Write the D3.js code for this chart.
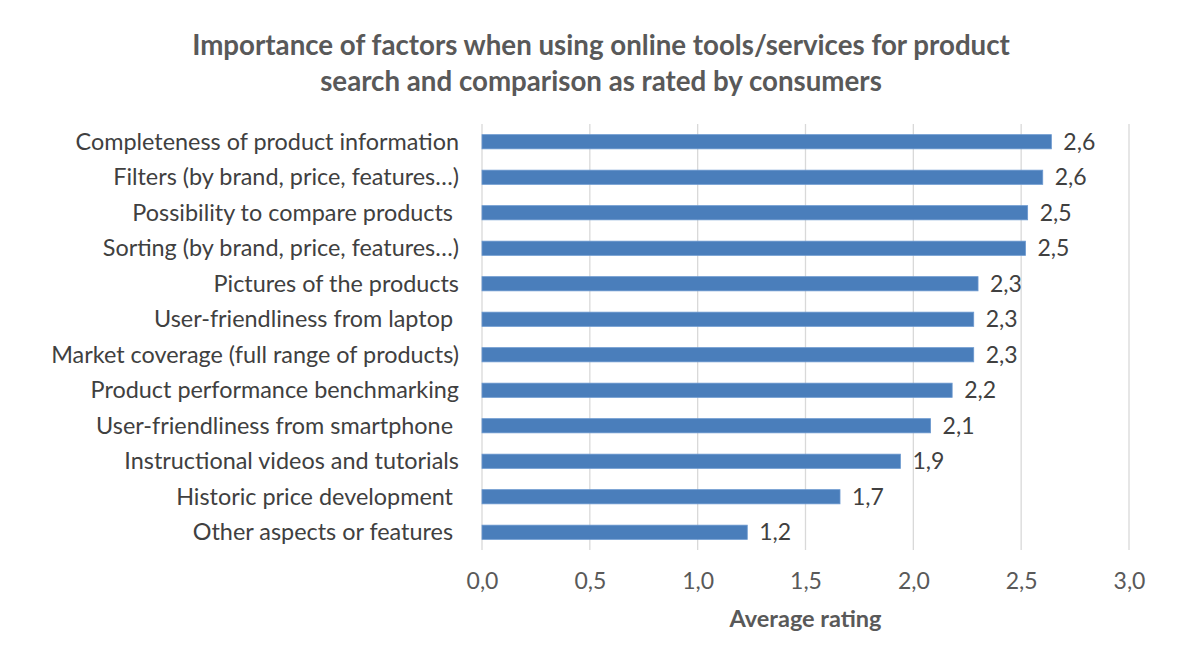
<!DOCTYPE html>
<html>
<head>
<meta charset="utf-8">
<script src="https://cdn.jsdelivr.net/npm/d3@7"></script>
<style>
  body{margin:0;background:#fff;}
  text{font-family:Lato,"Open Sans",sans-serif;}
</style>
</head>
<body>
<svg id="chart" width="1200" height="664"></svg>
<script>
// data
var categories = [
  "Completeness of product information",
  "Filters (by brand, price, features\u2026)",
  "Possibility to compare products ",
  "Sorting (by brand, price, features\u2026)",
  "Pictures of the products",
  "User-friendliness from laptop ",
  "Market coverage (full range of products)",
  "Product performance benchmarking",
  "User-friendliness from smartphone ",
  "Instructional videos and tutorials",
  "Historic price development ",
  "Other aspects or features "
];
var ratings = [2.64, 2.60, 2.53, 2.52, 2.30, 2.28, 2.28, 2.18, 2.08, 1.94, 1.66, 1.23];
var xTicks = [0, 0.5, 1, 1.5, 2, 2.5, 3];
var titleLines = [
  "Importance of factors when using online tools/services for product",
  "search and comparison as rated by consumers"
];

var svg = d3.select("#chart");
var fmt = function(d){ return d3.format(".1f")(d).replace(".", ","); };

var x = d3.scaleLinear().domain([0, 3]).range([482, 1129]);
var y = d3.scaleBand().domain(categories).range([124, 550]).paddingInner(0.6).paddingOuter(0.3);

// title
svg.append("g").selectAll("text")
  .data(titleLines)
  .enter().append("text")
    .attr("x", 601)
    .attr("y", function(d, i){ return 55 + i*36; })
    .attr("text-anchor", "middle")
    .attr("font-size", 27.7)
    .attr("font-weight", "bold")
    .attr("fill", "#595959")
    .text(function(d){ return d; });

// gridlines
svg.append("g").selectAll("line")
  .data(xTicks)
  .enter().append("line")
    .attr("x1", function(d){ return x(d); })
    .attr("x2", function(d){ return x(d); })
    .attr("y1", 124)
    .attr("y2", 550)
    .attr("stroke", "#d9d9d9")
    .attr("stroke-width", 1.3);

// x axis labels
var xAxis = d3.axisBottom(x)
  .tickValues(xTicks)
  .tickSize(0)
  .tickPadding(0)
  .tickFormat(fmt);
var gx = svg.append("g").attr("transform", "translate(0,589)").call(xAxis);
gx.select(".domain").remove();
gx.selectAll("text")
  .attr("dy", 0)
  .attr("font-size", 23)
  .attr("font-family", "Lato,'Open Sans',sans-serif")
  .attr("fill", "#595959");

// y axis labels
var yAxis = d3.axisLeft(y).tickSize(0).tickPadding(0);
var gy = svg.append("g").attr("transform", "translate(459,0)").call(yAxis);
gy.select(".domain").remove();
gy.selectAll("text")
  .attr("font-size", 23.4)
  .attr("font-family", "Lato,'Open Sans',sans-serif")
  .attr("fill", "#404040")
  .attr("dy", "0.35em")
  .style("white-space", "pre");

// bars
svg.append("g").selectAll("rect")
  .data(ratings)
  .enter().append("rect")
    .attr("x", x(0))
    .attr("y", function(d, i){ return y(categories[i]); })
    .attr("width", function(d){ return x(d) - x(0); })
    .attr("height", y.bandwidth())
    .attr("fill", "#4a7ebb")
    .attr("stroke", "#6b98cf")
    .attr("stroke-width", 0.8);

// value labels
svg.append("g").selectAll("text")
  .data(ratings)
  .enter().append("text")
    .attr("x", function(d){ return x(d) + 12; })
    .attr("y", function(d, i){ return y(categories[i]) + y.bandwidth()/2; })
    .attr("dy", "0.35em")
    .attr("font-size", 23)
    .attr("fill", "#404040")
    .text(function(d){ return fmt(d); });

// axis title
svg.append("text")
  .attr("x", x(1.5))
  .attr("y", 627)
  .attr("text-anchor", "middle")
  .attr("font-size", 23.5)
  .attr("font-weight", "bold")
  .attr("fill", "#595959")
  .text("Average rating");
</script>
</body>
</html>
